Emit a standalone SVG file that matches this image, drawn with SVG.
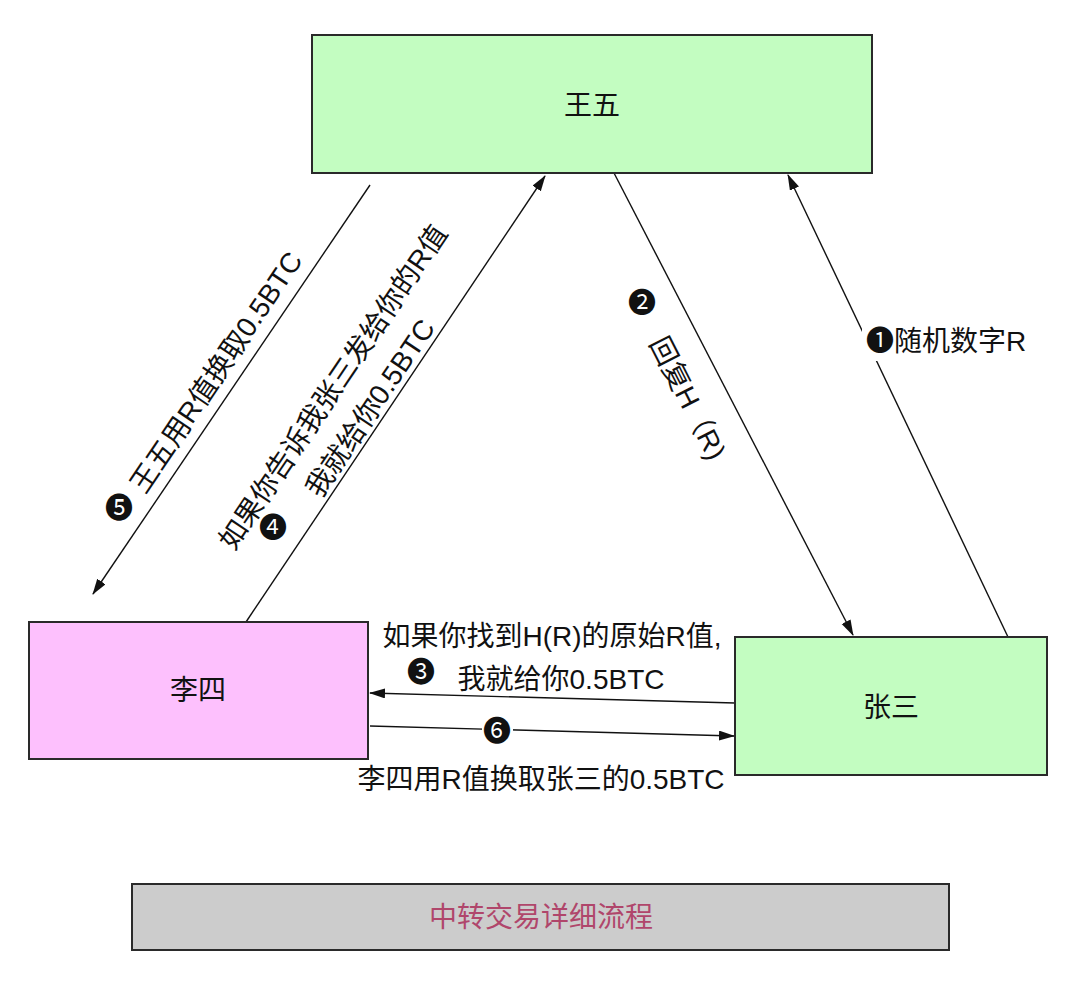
<svg xmlns="http://www.w3.org/2000/svg" width="1080" height="990" viewBox="0 0 1080 990">
<style>
text{font-family:'Liberation Sans','Noto Sans CJK SC','DejaVu Sans',sans-serif;font-size:28px;fill:#111}
.box{stroke:#2a2a2a;stroke-width:2}
.c{stroke:#111;stroke-width:1.4;fill:none;marker-end:url(#ah)}
.m{text-anchor:middle}
</style>
<defs>
<marker id="ah" markerUnits="userSpaceOnUse" markerWidth="16" markerHeight="12" refX="15" refY="5" orient="auto">
<path d="M0,0 L16,5 L0,10 z" fill="#111"/>
</marker>
</defs>
<rect width="1080" height="990" fill="#fff"/>
<g id="connectors">
<line class="c" x1="1008" y1="637" x2="788" y2="175"/>
<line class="c" x1="614" y1="173" x2="853" y2="635"/>
<line class="c" x1="735" y1="703" x2="370" y2="693"/>
<line class="c" x1="370" y1="726" x2="734" y2="736"/>
<line class="c" x1="246" y1="622" x2="545" y2="176"/>
<line class="c" x1="370" y1="185" x2="93" y2="594"/>
<rect x="862" y="327" width="166" height="34" fill="#fff"/>
<text x="866" y="351">❶随机数字R</text>
<text class="m" x="642" y="313">❷</text>
<text class="m" transform="translate(688,398) rotate(63)" dy="10">回复H（R)</text>
<text class="m" x="552" y="646">如果你找到H(R)的原始R值,</text>
<text x="421" y="682" class="m">❸</text>
<text x="561" y="689" class="m">我就给你0.5BTC</text>
<rect x="482" y="716" width="31" height="31" fill="#fff"/>
<text x="497" y="741" class="m">❻</text>
<text x="541" y="789" class="m">李四用R值换取张三的0.5BTC</text>
<text class="m" transform="translate(333,387) rotate(-56)" dy="10">如果你告诉我张三发给你的R值</text>
<text class="m" transform="translate(370,408) rotate(-56)" dy="10">我就给你0.5BTC</text>
<text x="273" y="538" class="m">❹</text>
<text class="m" transform="translate(216,372) rotate(-56)" dy="10">王五用R值换取0.5BTC</text>
<text x="119" y="518" class="m">❺</text>
</g>
<g id="wangwu">
<rect class="box" x="312" y="35" width="560" height="138" fill="#c3fdc1"/>
<text class="m" x="592" y="115">王五</text>
</g>
<g id="lisi">
<rect class="box" x="29" y="622" width="339" height="137" fill="#fdc0fd"/>
<text class="m" x="198" y="700">李四</text>
</g>
<g id="zhangsan">
<rect class="box" x="735" y="637" width="312" height="138" fill="#c3fdc1"/>
<text class="m" x="891" y="717">张三</text>
</g>
<g id="title">
<rect class="box" x="132" y="884" width="817" height="66" fill="#cccccc"/>
<text class="m" x="541" y="927" style="fill:#b0466b">中转交易详细流程</text>
</g>
</svg>
